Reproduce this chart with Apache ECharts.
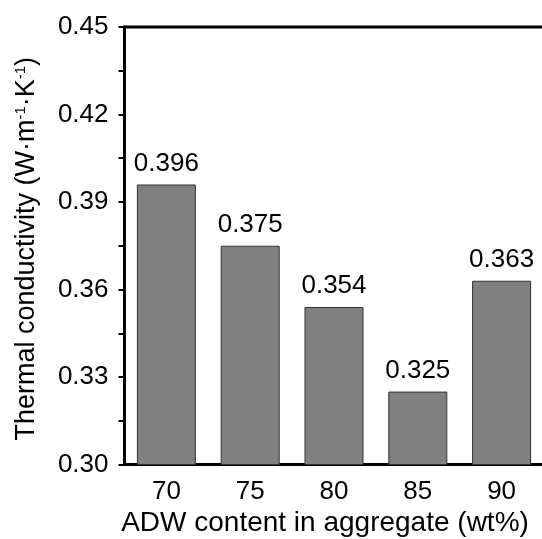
<!DOCTYPE html>
<html>
<head>
<meta charset="utf-8">
<script src="https://cdn.jsdelivr.net/npm/echarts@6/dist/echarts.min.js"></script>
<style>html,body{margin:0;padding:0;background:#fff;}#c{width:542px;height:539px;}</style>
</head>
<body>
<div id="c"></div>
<script>
const categories = ['70', '75', '80', '85', '90'];
const conductivity = [0.396, 0.375, 0.354, 0.325, 0.363];
const yTicks = [0.30, 0.33, 0.36, 0.39, 0.42, 0.45];

const FONT = 'Liberation Sans, Arial, sans-serif';
const chart = echarts.init(document.getElementById('c'), null, {renderer: 'canvas'});
chart.setOption({
  animation: false,
  backgroundColor: '#fff',
  grid: {left: 124.5, top: 27, width: 419, height: 437.5, outerBoundsMode: 'none', containLabel: false,
         show: true, borderColor: '#000', borderWidth: 3, backgroundColor: 'transparent'},
  xAxis: {
    type: 'category',
    data: categories,
    axisLine: {lineStyle: {color: '#000', width: 3}},
    axisTick: {show: false},
    axisLabel: {color: '#000', fontSize: 26, fontFamily: FONT, margin: 14},
    name: 'ADW content in aggregate (wt%)',
    nameLocation: 'middle',
    nameGap: 43,
    nameTextStyle: {color: '#000', fontSize: 28, fontFamily: FONT, padding: [0, 18, 0, 0]}
  },
  yAxis: {
    type: 'value',
    min: yTicks[0],
    max: yTicks[yTicks.length - 1],
    interval: 0.03,
    splitLine: {show: false},
    axisLine: {show: true, lineStyle: {color: '#000', width: 3}},
    axisTick: {show: true, length: 6, lineStyle: {color: '#000', width: 2}},
    minorTick: {show: true, splitNumber: 2, length: 6, lineStyle: {color: '#000', width: 2}},
    axisLabel: {color: '#000', fontSize: 26, fontFamily: FONT, margin: 16, formatter: v => v.toFixed(2)},
    name: 'Thermal conductivity (W·m{sup|-1}·K{sup|-1})',
    nameLocation: 'middle',
    nameGap: 84,
    nameTextStyle: {
      color: '#000', fontSize: 27, fontFamily: FONT, padding: [0, 6, 0, 0],
      rich: {sup: {fontSize: 15, fontFamily: FONT, color: '#000', verticalAlign: 'top', padding: [0, 0, 12, 0]}}
    }
  },
  series: [{
    type: 'bar',
    data: conductivity,
    barWidth: 59,
    itemStyle: {color: '#808080', borderColor: '#333', borderWidth: 1},
    label: {show: true, position: 'top', distance: 8, color: '#000', fontSize: 26, fontFamily: FONT, formatter: p => p.value.toFixed(3)}
  }]
});
</script>
</body>
</html>
